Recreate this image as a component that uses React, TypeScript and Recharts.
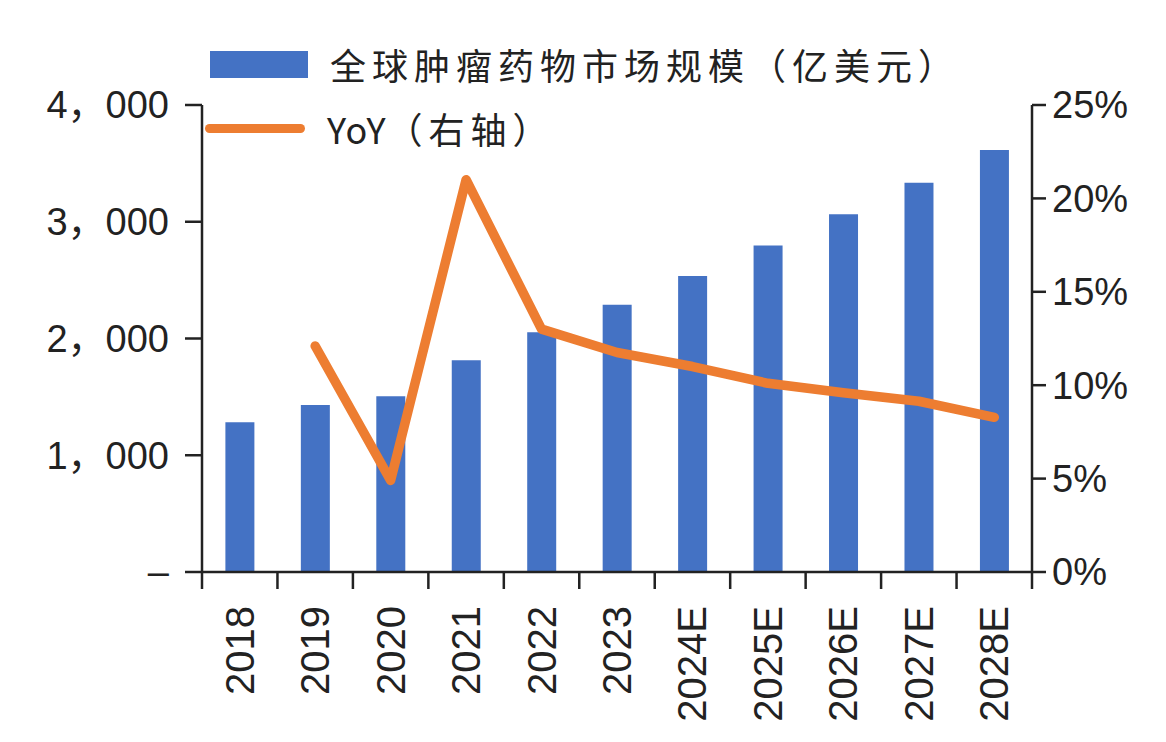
import React from 'react';
import { ComposedChart, Bar, Line, XAxis, YAxis, Legend } from 'recharts';

const years = ['2018', '2019', '2020', '2021', '2022', '2023', '2024E', '2025E', '2026E', '2027E', '2028E'];
const marketSize = [1282, 1431, 1505, 1814, 2054, 2289, 2535, 2796, 3064, 3333, 3614];
const yoy = [null, 0.121, 0.049, 0.21, 0.13, 0.1175, 0.11, 0.101, 0.096, 0.0914, 0.0828];
const leftTicks = [0, 1000, 2000, 3000, 4000];
const rightTicks = [0, 0.05, 0.1, 0.15, 0.2, 0.25];

const data = years.map((year, i) => ({ year, size: marketSize[i], yoy: yoy[i] }));

const BLUE = '#4472C4';
const ORANGE = '#ED7D31';
const INK = '#222222';
const FONT = '"Liberation Sans", Arial, "Noto Sans CJK SC", sans-serif';

const fmtLeft = (v: number) => (v === 0 ? '–' : `${Math.floor(v / 1000)}，${String(v % 1000).padStart(3, '0')}`);
const fmtRight = (v: number) => `${Math.round(v * 100)}%`;

// category label rotated, plus boundary tick marks between categories
function YearTick({ x, y, payload, index, width, visibleTicksCount }: any) {
  const half = width / visibleTicksCount / 2;
  const last = index === visibleTicksCount - 1;
  const ty = y + 34;
  return (
    <g>
      <line x1={x - half} x2={x - half} y1={y} y2={y + 17} stroke={INK} strokeWidth={2.5} />
      {last && <line x1={x + half} x2={x + half} y1={y} y2={y + 17} stroke={INK} strokeWidth={2.5} />}
      <text
        x={x}
        y={ty}
        transform={`rotate(-90, ${x}, ${ty})`}
        textAnchor="end"
        dominantBaseline="central"
        fontSize={40}
        fontFamily={FONT}
        fill={INK}
      >
        {payload.value}
      </text>
    </g>
  );
}

function LegendBox() {
  const textStyle: React.CSSProperties = {
    fontFamily: '"Noto Sans CJK SC", sans-serif',
    fontSize: 36,
    color: INK,
    letterSpacing: 6,
    lineHeight: '40px',
  };
  return (
    <div style={{ position: 'absolute', left: 205, top: 42 }}>
      <div style={{ display: 'flex', alignItems: 'center', height: 44 }}>
        <div style={{ width: 98, height: 27, background: BLUE, marginLeft: 5 }} />
        <span style={{ ...textStyle, marginLeft: 22 }}>全球肿瘤药物市场规模（亿美元）</span>
      </div>
      <div style={{ display: 'flex', alignItems: 'center', height: 44, marginTop: 20 }}>
        <div style={{ width: 100, height: 9, borderRadius: 5, background: ORANGE }} />
        <span style={{ ...textStyle, marginLeft: 22 }}>
          <span style={{ letterSpacing: 1 }}>YoY</span>（右轴）
        </span>
      </div>
    </div>
  );
}

export default function App() {
  return (
    <div style={{ position: 'absolute', left: 0, top: 0, width: 1166, height: 742, background: '#fff' }}>
      <ComposedChart
        width={1166}
        height={742}
        data={data}
        margin={{ top: 105, right: 0, left: 0, bottom: 0 }}
        barCategoryGap="31%"
      >
        <XAxis
          dataKey="year"
          height={170}
          interval={0}
          tick={<YearTick />}
          tickLine={false}
          tickSize={0}
          tickMargin={0}
          axisLine={{ stroke: INK, strokeWidth: 2.5 }}
        />
        <YAxis
          yAxisId="left"
          width={202}
          domain={[0, 4000]}
          ticks={leftTicks}
          tickFormatter={fmtLeft}
          tickSize={17}
          tickMargin={16}
          tick={{ fontSize: 38, fontFamily: FONT, fill: INK }}
          tickLine={{ stroke: INK, strokeWidth: 2.5 }}
          axisLine={{ stroke: INK, strokeWidth: 2.5 }}
        />
        <YAxis
          yAxisId="right"
          orientation="right"
          width={134}
          domain={[0, 0.25]}
          ticks={rightTicks}
          tickFormatter={fmtRight}
          tickSize={14}
          tickMargin={6}
          tick={{ fontSize: 38, fontFamily: FONT, fill: INK }}
          tickLine={{ stroke: INK, strokeWidth: 2.5 }}
          axisLine={{ stroke: INK, strokeWidth: 2.5 }}
        />
        <Legend content={() => <LegendBox />} wrapperStyle={{ left: 0, top: 0 }} />
        <Bar yAxisId="left" dataKey="size" fill={BLUE} isAnimationActive={false} />
        <Line
          yAxisId="right"
          dataKey="yoy"
          stroke={ORANGE}
          strokeWidth={9.5}
          strokeLinecap="round"
          strokeLinejoin="round"
          dot={false}
          activeDot={false}
          isAnimationActive={false}
        />
      </ComposedChart>
    </div>
  );
}
